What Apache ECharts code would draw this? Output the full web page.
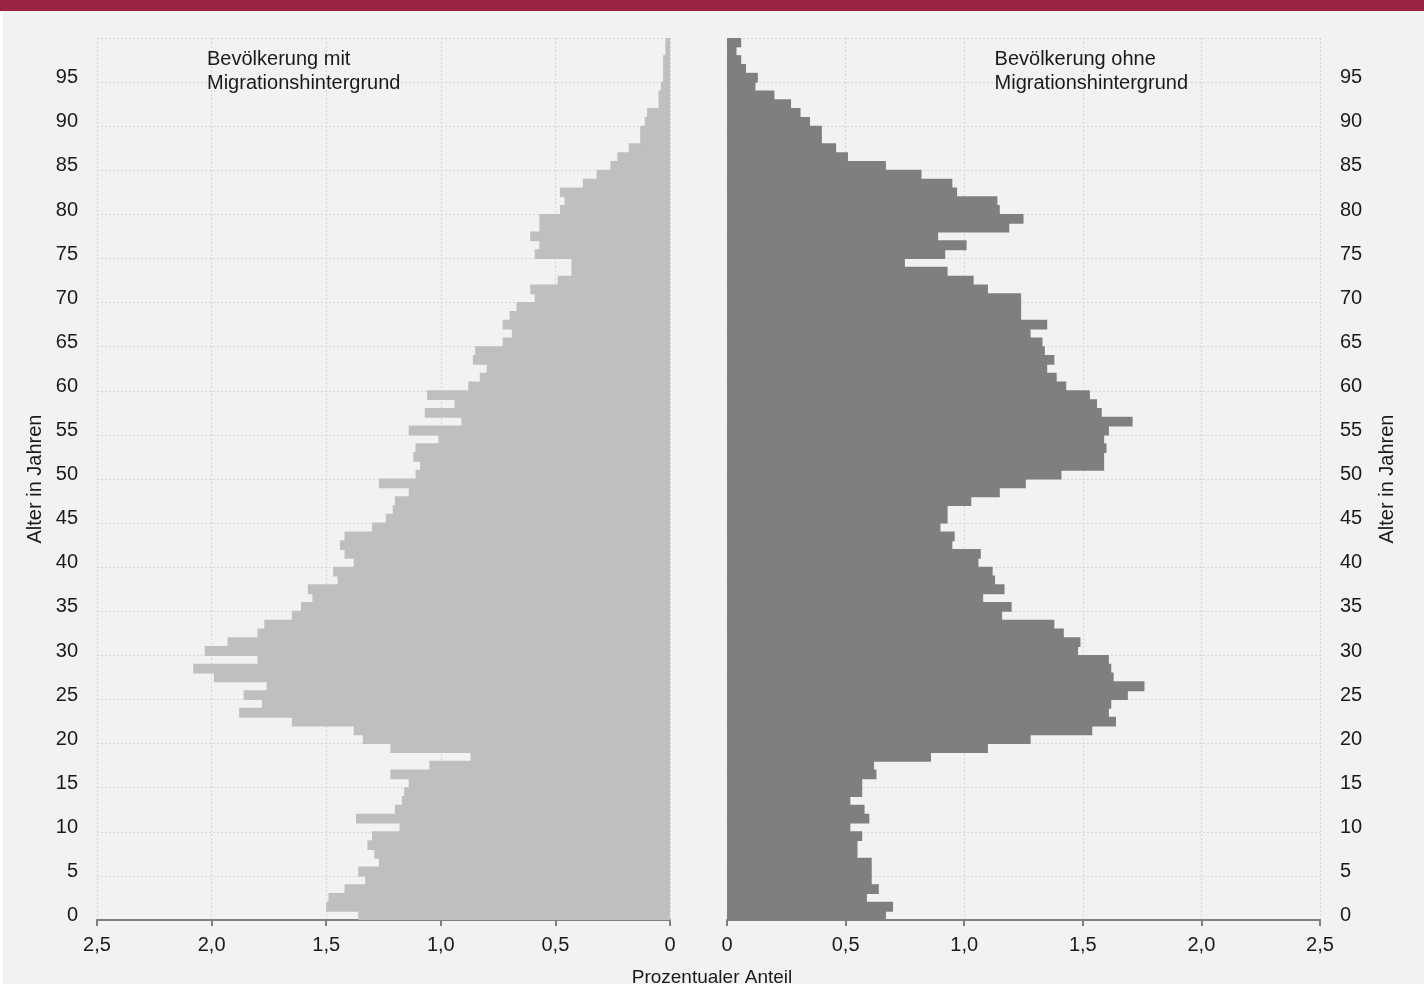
<!DOCTYPE html>
<html>
<head>
<meta charset="utf-8">
<script src="https://cdn.jsdelivr.net/npm/echarts@6/dist/echarts.min.js"></script>
<style>
html,body{margin:0;padding:0;background:#f2f2f2;}
#chart{width:1424px;height:984px;}
</style>
</head>
<body>
<div id="chart"></div>
<script>
// Ages 0..99
const ages = Array.from({length: 100}, (_, i) => String(i));

// Share (%) of population WITH migration background, age 0..99
const mitMigration = [
  1.36, 1.50, 1.49, 1.42, 1.33, 1.36, 1.27, 1.29, 1.32, 1.30,
  1.18, 1.37, 1.20, 1.17, 1.16, 1.14, 1.22, 1.05, 0.87, 1.22,
  1.34, 1.38, 1.65, 1.88, 1.78, 1.86, 1.76, 1.99, 2.08, 1.80,
  2.03, 1.93, 1.80, 1.77, 1.65, 1.61, 1.56, 1.58, 1.45, 1.47,
  1.38, 1.42, 1.44, 1.42, 1.30, 1.24, 1.21, 1.20, 1.14, 1.27,
  1.11, 1.09, 1.12, 1.11, 1.01, 1.14, 0.91, 1.07, 0.94, 1.06,
  0.88, 0.83, 0.80, 0.86, 0.85, 0.73, 0.69, 0.73, 0.70, 0.67,
  0.59, 0.61, 0.49, 0.43, 0.43, 0.59, 0.57, 0.61, 0.57, 0.57,
  0.48, 0.46, 0.48, 0.38, 0.32, 0.26, 0.23, 0.18, 0.13, 0.13,
  0.11, 0.10, 0.05, 0.05, 0.04, 0.03, 0.03, 0.03, 0.02, 0.02
];

// Share (%) of population WITHOUT migration background, age 0..99
const ohneMigration = [
  0.67, 0.70, 0.59, 0.64, 0.61, 0.61, 0.61, 0.55, 0.55, 0.57,
  0.52, 0.60, 0.58, 0.52, 0.57, 0.57, 0.63, 0.62, 0.86, 1.10,
  1.28, 1.54, 1.64, 1.61, 1.62, 1.69, 1.76, 1.63, 1.62, 1.61,
  1.48, 1.49, 1.42, 1.38, 1.16, 1.20, 1.08, 1.17, 1.13, 1.12,
  1.06, 1.07, 0.95, 0.96, 0.90, 0.93, 0.93, 1.03, 1.15, 1.26,
  1.41, 1.59, 1.59, 1.60, 1.59, 1.61, 1.71, 1.58, 1.56, 1.53,
  1.43, 1.39, 1.35, 1.38, 1.34, 1.33, 1.28, 1.35, 1.24, 1.24,
  1.24, 1.10, 1.04, 0.93, 0.75, 0.92, 1.01, 0.89, 1.19, 1.25,
  1.15, 1.14, 0.97, 0.95, 0.82, 0.67, 0.51, 0.46, 0.40, 0.40,
  0.35, 0.31, 0.27, 0.20, 0.12, 0.13, 0.08, 0.06, 0.04, 0.06
];

const xMin = 0, xMax = 2.5, xStep = 0.5;
const titleLeft = 'Bevölkerung mit\nMigrationshintergrund';
const titleRight = 'Bevölkerung ohne\nMigrationshintergrund';
const yAxisName = 'Alter in Jahren';
const xAxisName = 'Prozentualer Anteil';

const FONT = '"Liberation Sans", Arial, sans-serif';
const TXT = '#1a1a1a';
const fmtX = v => v === 0 ? '0' : v.toFixed(1).replace('.', ',');

function xAxisCfg(gridIndex, inverse) {
  return {
    type: 'value', gridIndex, inverse, min: xMin, max: xMax, interval: xStep,
    axisLine: { show: true, lineStyle: { color: '#808080', width: 2 } },
    axisTick: { show: true, length: 6, lineStyle: { color: '#808080', width: 2 } },
    axisLabel: { formatter: fmtX, color: TXT, fontSize: 20, fontFamily: FONT, margin: 15 },
    splitLine: { show: true, lineStyle: { color: '#d6d6d6', type: [2, 2], width: 1 } }
  };
}
function yAxisCfg(gridIndex, position) {
  return {
    type: 'category', gridIndex, position, data: ages,
    name: yAxisName, nameLocation: 'middle', nameRotate: 90,
    nameGap: position === 'left' ? 52 : 57,
    nameTextStyle: { color: TXT, fontSize: 20, fontFamily: FONT },
    axisLine: { show: false }, axisTick: { show: false },
    axisLabel: { interval: 4, color: TXT, fontSize: 20, fontFamily: FONT, margin: position === 'left' ? 19 : 20 },
    splitLine: { show: true, interval: 4, lineStyle: { color: '#d6d6d6', type: [2, 2], width: 1 } }
  };
}

const chart = echarts.init(document.getElementById('chart'), null, { renderer: 'canvas' });
chart.setOption({
  backgroundColor: '#f2f2f2',
  animation: false,
  grid: [
    { left: 97, right: 754, top: 38, bottom: 64 },
    { left: 727, right: 104, top: 38, bottom: 64 }
  ],
  xAxis: [xAxisCfg(0, true), xAxisCfg(1, false)],
  yAxis: [yAxisCfg(0, 'left'), yAxisCfg(1, 'right')],
  series: [
    { type: 'bar', xAxisIndex: 0, yAxisIndex: 0, data: mitMigration, barWidth: 9.8,
      itemStyle: { color: '#bfbfbf' } },
    { type: 'bar', xAxisIndex: 1, yAxisIndex: 1, data: ohneMigration, barWidth: 9.8,
      itemStyle: { color: '#7f7f7f' } }
  ],
  graphic: [
    { type: 'rect', left: 0, top: 0, shape: { width: 1424, height: 11 }, style: { fill: '#9b2242' } },
    { type: 'rect', left: 0, top: 11, shape: { width: 3, height: 973 }, style: { fill: '#ffffff' } },
    { type: 'text', z: 100, left: 207, top: 47, style: { text: titleLeft, fill: TXT, fontSize: 20, fontFamily: FONT, lineHeight: 24, align: 'left' } },
    { type: 'text', z: 100, right: 1424 - 1188, top: 47, style: { text: titleRight, fill: TXT, fontSize: 20, fontFamily: FONT, lineHeight: 24, align: 'right' } },
    { type: 'text', z: 100, left: 'center', top: 968, style: { text: xAxisName, fill: TXT, fontSize: 19, fontFamily: FONT } }
  ]
});
</script>
</body>
</html>
